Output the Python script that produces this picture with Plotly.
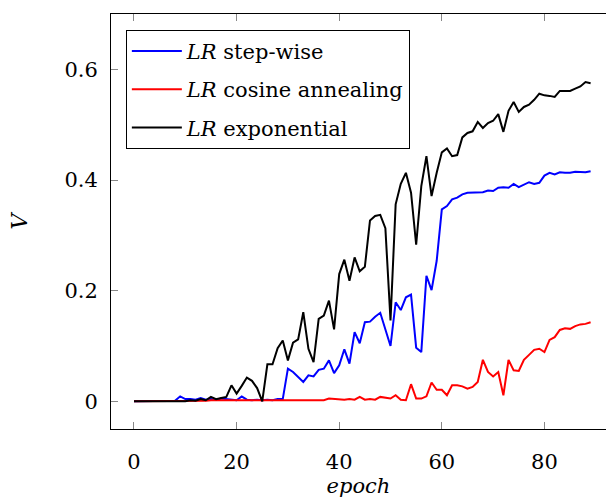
import plotly.graph_objects as go

epochs = list(range(90))

step_wise = [0.0, 0.0, 0.0, 0.0, 0.0, 0.001, 0.001, 0.001, 0.001, 0.009,
             0.004, 0.004, 0.003, 0.006, 0.003, 0.004, 0.003, 0.005, 0.004, 0.003,
             0.002, 0.009, 0.003, 0.002, 0.003, 0.002, 0.003, 0.002, 0.004, 0.004,
             0.059, 0.053, 0.044, 0.035, 0.047, 0.045, 0.057, 0.059, 0.074, 0.051,
             0.065, 0.094, 0.068, 0.125, 0.105, 0.143, 0.144, 0.153, 0.160, 0.129,
             0.100, 0.179, 0.165, 0.188, 0.193, 0.097, 0.089, 0.227, 0.201, 0.254,
             0.347, 0.353, 0.365, 0.368, 0.374, 0.377, 0.377, 0.377, 0.378, 0.381,
             0.380, 0.386, 0.387, 0.386, 0.393, 0.387, 0.391, 0.396, 0.393, 0.395,
             0.408, 0.413, 0.410, 0.414, 0.413, 0.413, 0.415, 0.414, 0.414, 0.416]

cosine = [0.0, 0.0, 0.0, 0.0, 0.0, 0.0, 0.0, 0.0, 0.001, 0.0,
          0.001, 0.001, 0.001, 0.001, 0.001, 0.002, 0.002, 0.003, 0.002, 0.003,
          0.003, 0.002, 0.003, 0.003, 0.002, 0.003, 0.002, 0.002, 0.003, 0.003,
          0.003, 0.003, 0.002, 0.003, 0.002, 0.003, 0.003, 0.002, 0.005, 0.004,
          0.004, 0.003, 0.004, 0.003, 0.008, 0.003, 0.004, 0.003, 0.008, 0.006,
          0.005, 0.011, 0.003, 0.002, 0.031, 0.005, 0.005, 0.009, 0.034, 0.021,
          0.021, 0.011, 0.029, 0.029, 0.027, 0.023, 0.026, 0.035, 0.075, 0.053,
          0.045, 0.053, 0.011, 0.075, 0.056, 0.055, 0.075, 0.084, 0.093, 0.095,
          0.089, 0.111, 0.116, 0.129, 0.132, 0.131, 0.136, 0.139, 0.140, 0.143]

exponential = [0.0, 0.0, 0.0, 0.0, 0.0, 0.0, 0.0, 0.0, 0.0, 0.0,
               0.0, 0.002, 0.001, 0.004, 0.002, 0.008, 0.004, 0.006, 0.008, 0.029,
               0.014, 0.028, 0.043, 0.037, 0.024, 0.0, 0.067, 0.067, 0.096, 0.110,
               0.074, 0.106, 0.112, 0.161, 0.095, 0.071, 0.149, 0.155, 0.182, 0.130,
               0.230, 0.256, 0.218, 0.260, 0.235, 0.243, 0.327, 0.335, 0.337, 0.313,
               0.146, 0.356, 0.393, 0.413, 0.377, 0.283, 0.389, 0.443, 0.371, 0.413,
               0.450, 0.457, 0.443, 0.445, 0.477, 0.485, 0.488, 0.505, 0.494, 0.503,
               0.507, 0.519, 0.487, 0.525, 0.541, 0.523, 0.532, 0.536, 0.545, 0.556,
               0.553, 0.552, 0.550, 0.561, 0.561, 0.561, 0.565, 0.569, 0.577, 0.575]

series_labels = ["step-wise", "cosine annealing", "exponential"]
series_values = [step_wise, cosine, exponential]
series_colors = ["#0000ff", "#ff0000", "#000000"]

x_ticks = [0, 20, 40, 60, 80]
y_ticks = [0, 0.2, 0.4, 0.6]
y_tick_labels = ["0", "0.2", "0.4", "0.6"]

FONT = "DejaVu Serif"

fig = go.Figure()
for i, (lab, vals, col) in enumerate(zip(series_labels, series_values, series_colors)):
    name = f"<i>LR</i> {lab}"
    fig.add_trace(go.Scatter(x=epochs, y=vals, mode="lines", name=name,
                             legendgroup=f"g{i}",
                             line=dict(color=col, width=2)))

fig.update_layout(
    width=606, height=498,
    margin=dict(l=111, r=0, t=14, b=69),
    paper_bgcolor="white", plot_bgcolor="white",
    font=dict(family=FONT, size=21, color="black"),
    showlegend=True,
    legend=dict(x=0.03, y=0.962, xanchor="left", yanchor="top",
                bordercolor="black", borderwidth=1, bgcolor="white",
                font=dict(family=FONT, size=21, color="black"),
                itemwidth=50,
                traceorder="grouped", tracegroupgap=8),
    xaxis=dict(range=[-4.48, 92.0], tickvals=x_ticks, ticks="inside", ticklen=7,
               tickcolor="#888888", tickwidth=1, showline=True, linecolor="black",
               linewidth=1, mirror="allticks", showgrid=False, zeroline=False,
               ticklabelstandoff=14, tickfont=dict(family=FONT, size=21),
               title=dict(text="<i>epoch</i>", standoff=3,
                          font=dict(family=FONT, size=21))),
    yaxis=dict(range=[-0.05, 0.7], tickvals=y_ticks, ticktext=y_tick_labels,
               ticks="inside", ticklen=7, tickcolor="#888888", tickwidth=1,
               showline=True, linecolor="black", linewidth=1, mirror=False,
               showgrid=False, zeroline=False, ticklabelstandoff=8,
               tickfont=dict(family=FONT, size=21),
               title=dict(text="<i>V</i>", standoff=30,
                          font=dict(family=FONT, size=22))),
)

fig.write_html("out.html")
